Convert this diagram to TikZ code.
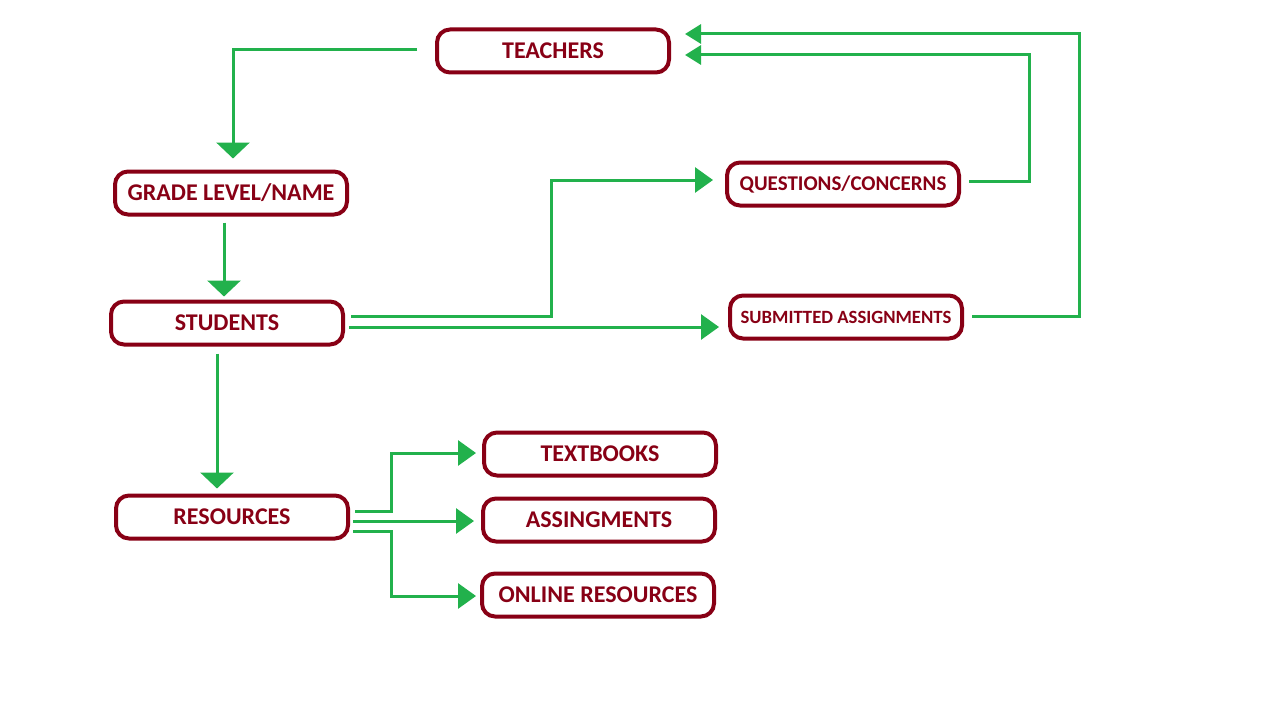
\documentclass[tikz,border=0pt]{standalone}
\usepackage{fontspec}
\setmainfont{Carlito}
\usetikzlibrary{arrows.meta,calc}
\definecolor{boxred}{HTML}{880015}
\definecolor{flowgreen}{HTML}{22B14C}
\begin{document}
\begin{tikzpicture}[x=1pt,y=-1pt,
  box/.style={draw=boxred, line width=4pt, rounded corners=13pt, fill=white,
    minimum width=232pt, minimum height=43pt, inner sep=0pt,
    text=boxred, font=\bfseries\fontsize{24}{26}\selectfont},
  conn/.style={draw=flowgreen, line width=3pt},
  varr/.style={conn, -{Triangle[length=16pt,width=33pt]}},
  harr/.style={conn, -{Triangle[length=18pt,width=25pt]}},
  tarr/.style={conn, -{Triangle[length=16pt,width=19pt]}}]
\useasboundingbox (0,0) rectangle (1282,725);
\fill[white] (0,0) rectangle (1282,725);

\node[box] (teachers) at (553,51) {TEACHERS};
\node[box] (grade) at (231,193) {GRADE LEVEL/NAME};
\node[box] (students) at (227,323) {STUDENTS};
\node[box] (resources) at (232,517) {RESOURCES};
\node[box, font=\bfseries\fontsize{21}{23}\selectfont] (questions) at (843,184) {QUESTIONS/CONCERNS};
\node[box, font=\bfseries\fontsize{18.7}{21}\selectfont] (submitted) at (846,317) {SUBMITTED ASSIGNMENTS};
\node[box] (textbooks) at (600,454) {TEXTBOOKS};
\node[box] (assign) at (599,520) {ASSINGMENTS};
\node[box] (online) at (598,595) {ONLINE RESOURCES};

% teachers -> grade
\draw[varr] ($(teachers.west)+(-18,-1)$) -| ($(grade.north)+(2,-11)$);
% grade -> students
\draw[varr] ($(grade.south)+(-7,6)$) -- ($(students.north)+(-3,-3)$);
% students -> questions
\draw[harr] ($(students.east)+(6,-7)$) -| ($(questions.west)+(-174,-4)$) -- ($(questions.west)+(-12,-4)$);
% students -> submitted
\draw[harr] ($(students.east)+(4,4)$) -- ($(submitted.west)+(-9,10)$);
% questions -> teachers
\draw[tarr] ($(questions.east)+(8,-3)$) -| ($(teachers.east)+(358,4)$) -- ($(teachers.east)+(14,4)$);
% submitted -> teachers
\draw[tarr] ($(submitted.east)+(8,-1)$) -| ($(teachers.east)+(408,-17)$) -- ($(teachers.east)+(14,-17)$);
% students -> resources
\draw[varr] ($(students.south)+(-10,7)$) -- ($(resources.north)+(-15,-5)$);
% resources -> textbooks
\draw[harr] ($(resources.east)+(5,-6)$) -| ($(textbooks.west)+(-91,-1)$) -- ($(textbooks.west)+(-6,-1)$);
% resources -> assignments
\draw[harr] ($(resources.east)+(3,4)$) -- ($(assign.west)+(-7,1)$);
% resources -> online
\draw[harr] ($(resources.east)+(3,14)$) -| ($(online.west)+(-89,1)$) -- ($(online.west)+(-4,1)$);
\end{tikzpicture}
\end{document}
